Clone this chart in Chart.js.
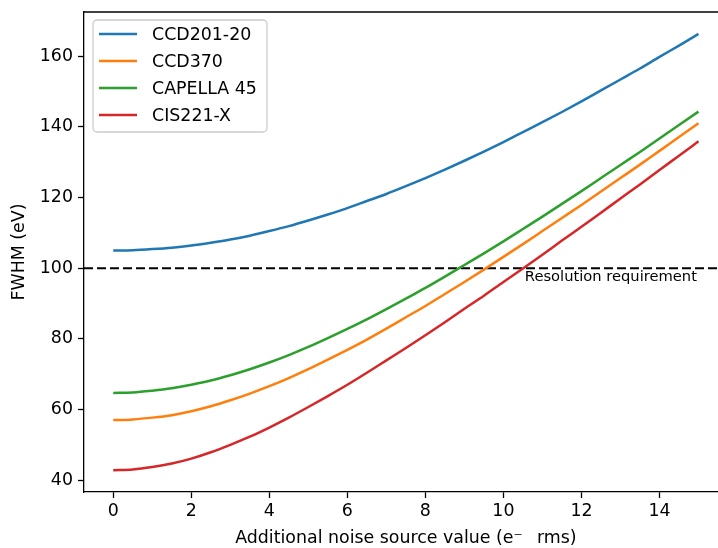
<!DOCTYPE html>
<html>
<head>
<meta charset="utf-8">
<script src="https://cdn.jsdelivr.net/npm/chart.js@4/dist/chart.umd.min.js"></script>
<style>
  html, body { margin: 0; padding: 0; background: #fff; }
  #wrap { width: 718px; height: 548px; }
</style>
</head>
<body>
<div id="wrap"><canvas id="fwhmChart"></canvas></div>
<script>
// values (every half unit of noise)
const noiseValues = [0, 0.5, 1, 1.5, 2, 2.5, 3, 3.5, 4, 4.5, 5, 5.5, 6, 6.5, 7, 7.5,
  8, 8.5, 9, 9.5, 10, 10.5, 11, 11.5, 12, 12.5, 13, 13.5, 14, 14.5, 15];
const ccd20120 = [105.0, 105.1, 105.4, 105.8, 106.4, 107.2, 108.1, 109.2, 110.5, 111.9, 113.5, 115.2, 117.0, 119.0, 121.0, 123.2,
  125.5, 127.9, 130.4, 133.0, 135.7, 138.5, 141.3, 144.2, 147.2, 150.3, 153.4, 156.5, 159.8, 163.0, 166.3];
const ccd370 = [57.0, 57.2, 57.7, 58.4, 59.5, 60.9, 62.6, 64.5, 66.6, 68.9, 71.4, 74.1, 76.9, 79.8, 82.9, 86.1,
  89.3, 92.7, 96.1, 99.6, 103.2, 106.8, 110.5, 114.2, 117.9, 121.7, 125.5, 129.3, 133.2, 137.1, 141.0];
const capella45 = [64.7, 64.8, 65.3, 66.0, 67.0, 68.2, 69.7, 71.4, 73.3, 75.4, 77.7, 80.2, 82.8, 85.5, 88.4, 91.4,
  94.4, 97.6, 100.9, 104.2, 107.6, 111.1, 114.6, 118.2, 121.8, 125.5, 129.2, 132.9, 136.7, 140.5, 144.3];
const cis221x = [42.8, 43.0, 43.7, 44.7, 46.1, 47.9, 50.0, 52.3, 54.9, 57.7, 60.7, 63.8, 67.0, 70.4, 73.9, 77.4,
  81.0, 84.7, 88.5, 92.2, 96.1, 99.9, 103.8, 107.8, 111.7, 115.7, 119.7, 123.7, 127.8, 131.8, 135.9];

const seriesNames = ["CCD201-20", "CCD370", "CAPELLA 45", "CIS221-X"];
const seriesColors = ["#1f77b4", "#ff7f0e", "#2ca02c", "#d62728"];

const requirement = 100;
const requirementLabel = "Resolution requirement";
const xTicks = [0, 2, 4, 6, 8, 10, 12, 14];
const yTicks = [40, 60, 80, 100, 120, 140, 160];
const xTitle = "Additional noise source value (e\u207B\u2002 rms)";

const font = "DejaVu Sans";
const fontSize = 17.4;

function toPoints(values) {
  return noiseValues.map((x, i) => ({ x: x, y: values[i] }));
}

// top spine, x title, legend box and the requirement label
const extras = {
  id: "extras",
  afterDraw(chart) {
    const ctx = chart.ctx;
    const area = chart.chartArea;
    const xs = chart.scales.x;
    const ys = chart.scales.y;

    ctx.save();
    ctx.strokeStyle = "#000";
    ctx.lineWidth = 1.3;
    ctx.beginPath();
    ctx.moveTo(area.left, area.top);
    ctx.lineTo(area.right, area.top);
    ctx.stroke();

    // x title, centred on the full axes (which run past the right edge)
    ctx.fillStyle = "#000";
    ctx.font = fontSize + "px '" + font + "'";
    ctx.textAlign = "center";
    ctx.textBaseline = "middle";
    ctx.fillText(xTitle, xs.getPixelForValue(7.5), chart.height - 10);

    // requirement label under the dashed line
    ctx.font = "14.7px '" + font + "'";
    ctx.textAlign = "left";
    ctx.textBaseline = "top";
    ctx.fillText(requirementLabel, xs.getPixelForValue(10.55), ys.getPixelForValue(requirement) + 2);

    // legend
    const bx = area.left + 9, by = area.top + 8, bw = 174, bh = 112;
    ctx.fillStyle = "rgba(255,255,255,0.8)";
    ctx.strokeStyle = "#cccccc";
    ctx.lineWidth = 1.3;
    ctx.beginPath();
    ctx.roundRect(bx, by, bw, bh, 4);
    ctx.fill();
    ctx.stroke();

    ctx.font = fontSize + "px '" + font + "'";
    ctx.textBaseline = "middle";
    seriesNames.forEach((name, i) => {
      const rowY = by + 14 + i * 27;
      ctx.strokeStyle = seriesColors[i];
      ctx.lineWidth = 2.5;
      ctx.beginPath();
      ctx.moveTo(bx + 6, rowY);
      ctx.lineTo(bx + 44, rowY);
      ctx.stroke();
      ctx.fillStyle = "#000";
      ctx.fillText(name, bx + 59, rowY + 1);
    });
    ctx.restore();
  }
};

const datasets = [ccd20120, ccd370, capella45, cis221x].map((values, i) => ({
  label: seriesNames[i],
  data: toPoints(values),
  borderColor: seriesColors[i],
  backgroundColor: seriesColors[i],
  borderWidth: 2.5,
  pointRadius: 0,
  cubicInterpolationMode: "monotone",
  fill: false
}));

datasets.push({
  label: requirementLabel,
  data: [{ x: -0.75, y: requirement }, { x: 15.5, y: requirement }],
  borderColor: "#000",
  borderWidth: 2,
  borderDash: [9, 4],
  pointRadius: 0,
  fill: false
});

const ctx = document.getElementById("fwhmChart").getContext("2d");

const fwhmChart = new Chart(ctx, {
  type: "line",
  data: { datasets: datasets },
  plugins: [extras],
  options: {
    responsive: true,
    maintainAspectRatio: false,
    animation: false,
    layout: { padding: { top: 12, right: 0, left: 0, bottom: 0 } },
    plugins: {
      legend: { display: false },
      tooltip: { enabled: false }
    },
    scales: {
      x: {
        type: "linear",
        min: -0.75,
        max: 15.5,
        afterBuildTicks: (scale) => { scale.ticks = xTicks.map((v) => ({ value: v })); },
        afterFit: (scale) => { scale.height = 56; scale.paddingLeft = 0; scale.paddingRight = 0; },
        grid: { drawOnChartArea: false, drawTicks: true, tickLength: 6, color: "#000", tickWidth: 1.3 },
        border: { display: true, color: "#000", width: 1.3 },
        ticks: { color: "#000", padding: 3, maxRotation: 0, font: { family: font, size: fontSize } },
        title: { display: false }
      },
      y: {
        min: 36.65,
        max: 172.5,
        afterBuildTicks: (scale) => { scale.ticks = yTicks.map((v) => ({ value: v })); },
        afterFit: (scale) => { scale.width = 84; scale.paddingTop = 0; scale.paddingBottom = 0; },
        grid: { drawOnChartArea: false, drawTicks: true, tickLength: 6, color: "#000", tickWidth: 1.3 },
        border: { display: true, color: "#000", width: 1.3 },
        ticks: { color: "#000", padding: 5, font: { family: font, size: fontSize } },
        title: {
          display: true,
          text: "FWHM (eV)",
          color: "#000",
          padding: { top: 9, bottom: 0 },
          font: { family: font, size: fontSize }
        }
      }
    }
  }
});
</script>
</body>
</html>
